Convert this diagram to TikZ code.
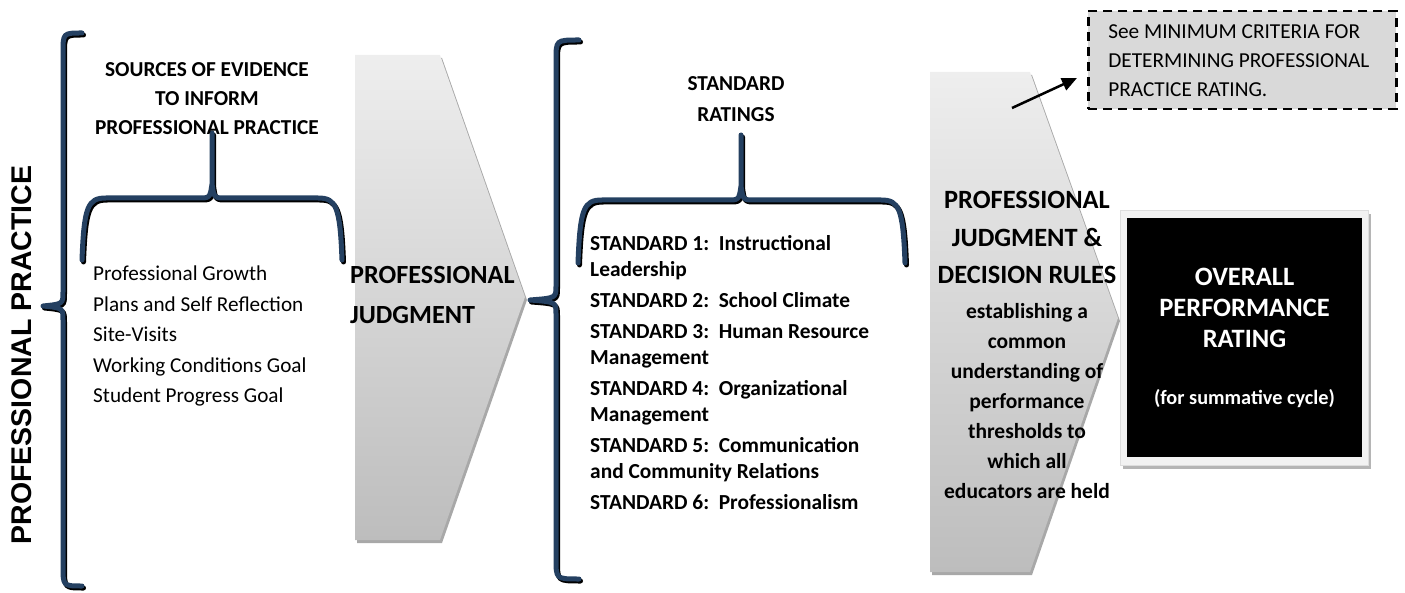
\documentclass[tikz,border=0pt]{standalone}
\usepackage{fontspec}
\setmainfont{Carlito}
\newfontfamily\arialbfont{Liberation Sans Bold}
\usetikzlibrary{arrows.meta}
\definecolor{navy}{HTML}{244061}
\definecolor{chevtop}{HTML}{EEEEEE}
\definecolor{chevbot}{HTML}{BDBDBD}
\definecolor{chevshade}{HTML}{A8A8A8}
\definecolor{notefill}{HTML}{D9D9D9}
\definecolor{framefill}{HTML}{F2F2F2}
\definecolor{framedraw}{HTML}{DDDDDD}
\definecolor{frameshade}{HTML}{B5B5B5}
\tikzset{
  bracenavy/.style={draw=navy, line width=5pt, line cap=round, line join=round},
  braceshadow/.style={draw=black, line width=5pt, line cap=round, line join=round},
  chevbody/.style={top color=chevtop, bottom color=chevbot, draw=none},
  chevshadow/.style={fill=chevshade, draw=none},
  titletext/.style={align=center, inner sep=0pt, font=\bfseries\fontsize{21.3}{29}\selectfont},
  listtext/.style={anchor=west, align=left, inner sep=0pt, font=\fontsize{21.2}{30.5}\selectfont},
  stdtext/.style={anchor=west, align=left, inner sep=0pt, font=\bfseries\fontsize{21.4}{26}\selectfont},
  bigtext/.style={align=center, inner sep=0pt, font=\bfseries\fontsize{26.4}{37.5}\selectfont},
}
% vertical brace: #1 x of line, #2 x of hook ends, #3 x of tip, #4 top y, #5 bottom y, #6 tip y
\newcommand{\drawvbrace}[6]{%
  \foreach \sty/\dx/\dy in {braceshadow/1.5/2, bracenavy/0/0}{%
    \draw[\sty, shift={(\dx,\dy)}] (#2,#4) .. controls (#1,#4) .. (#1,#4+20) -- (#1,#6-14)
      .. controls (#1,#6-2) .. (#3,#6) .. controls (#1,#6+2) .. (#1,#6+14) -- (#1,#5-20)
      .. controls (#1,#5) .. (#2,#5);}}
% horizontal brace pointing up: #1 y of line, #2 left x, #3 right x, #4 end y, #5 tip x, #6 tip y
\newcommand{\drawhbrace}[6]{%
  \foreach \sty/\dx/\dy in {braceshadow/1.5/2, bracenavy/0/0}{%
    \draw[\sty, shift={(\dx,\dy)}] (#2,#4) .. controls (#2+2,#1+8) and (#2+6,#1) .. (#2+24,#1)
      -- (#5-14,#1) .. controls (#5-2,#1) .. (#5,#1-14) -- (#5,#6) -- (#5,#1-14)
      .. controls (#5+2,#1) .. (#5+14,#1) -- (#3-24,#1)
      .. controls (#3-6,#1) and (#3-2,#1+8) .. (#3,#4);}}
\begin{document}
\begin{tikzpicture}[x=1pt,y=-1pt]
\useasboundingbox (0,0) rectangle (1405,593);

% chevrons
\path[chevshadow] (357,58) -- (442,58) -- (527,300) -- (442,543) -- (357,543) -- cycle;
\path[chevbody] (355,55) -- (440,55) -- (525,297) -- (440,540) -- (355,540) -- cycle;
\path[chevshadow] (932,75) -- (1032,75) -- (1120,321) -- (1032,575) -- (932,575) -- cycle;
\path[chevbody] (930,72) -- (1030,72) -- (1118,318) -- (1030,572) -- (930,572) -- cycle;

% braces
\drawvbrace{63}{82}{43}{33}{586}{306}
\drawhbrace{198}{82}{342}{260}{212}{133}
\drawvbrace{556}{579}{530}{40}{579}{300}
\drawhbrace{200}{578}{905}{263}{741}{135}

% left rotated label
\node[rotate=90, inner sep=0pt, font=\arialbfont\fontsize{28.5}{32}\selectfont] (pp) at (22,355) {PROFESSIONAL PRACTICE};

% sources
\node[titletext] (srctitle) at (207,99) {SOURCES OF EVIDENCE\\TO INFORM\\PROFESSIONAL PRACTICE};
\node[listtext] (srclist) at (93,336) {Professional Growth\\Plans and Self Reflection\\Site-Visits\\Working Conditions Goal\\Student Progress Goal};

% professional judgment
\node[anchor=west, align=left, inner sep=0pt, font=\bfseries\fontsize{26.2}{40}\selectfont] (pj) at (350,295) {PROFESSIONAL\\JUDGMENT};

% standards
\node[titletext, font=\bfseries\fontsize{21.3}{31}\selectfont] (stdtitle) at (736,99) {STANDARD\\RATINGS};
\node[stdtext] (stdlist) at (590,373) {STANDARD 1:\ \ Instructional\\Leadership\\[5pt]STANDARD 2:\ \ School Climate\\[5pt]STANDARD 3:\ \ Human Resource\\Management\\[5pt]STANDARD 4:\ \ Organizational\\Management\\[5pt]STANDARD 5:\ \ Communication\\and Community Relations\\[5pt]STANDARD 6:\ \ Professionalism};

% decision rules
\node[bigtext] (pjd) at (1027,237.5) {PROFESSIONAL\\JUDGMENT \&\\DECISION RULES};
\node[align=center, inner sep=0pt, font=\bfseries\fontsize{21.5}{30}\selectfont] (rules) at (1027,401) {establishing a\\common\\understanding of\\performance\\thresholds to\\which all\\educators are held};

% overall rating box
\fill[frameshade] (1123,214) rectangle (1371,469);
\filldraw[fill=framefill, draw=framedraw, line width=1pt] (1120,211) rectangle (1368,465);
\node[fill=black, minimum width=235pt, minimum height=239pt, inner sep=0pt, text=white, align=center, font=\bfseries\fontsize{26.5}{31}\selectfont] (overall) at (1244.5,337.5) {OVERALL\\PERFORMANCE\\RATING\\[26pt]{\fontsize{20.3}{23}\selectfont (for summative cycle)}};

% note box and arrow
\node[draw=black, dash pattern=on 9pt off 6pt, line width=2.5pt, fill=notefill, anchor=north west, minimum width=308pt, minimum height=98pt, inner xsep=20pt, text width=268pt, align=flush left, font=\fontsize{21.3}{29}\selectfont] (note) at (1087,10) {See MINIMUM CRITERIA FOR\\DETERMINING PROFESSIONAL\\PRACTICE RATING.};
\coordinate (astart) at (1012,108);
\coordinate (aend) at (1077,78);
\draw[line width=2.5pt, -{Triangle[length=15pt,width=13pt]}] (astart) -- (aend);
\end{tikzpicture}
\end{document}
